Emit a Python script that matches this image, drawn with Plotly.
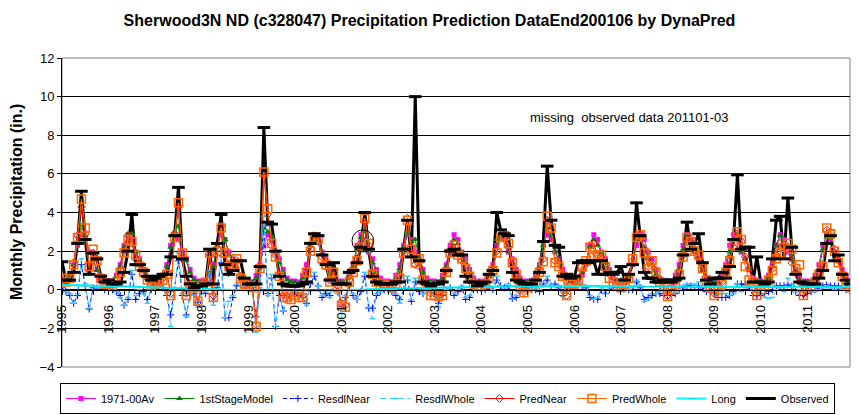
import plotly.graph_objects as go

YEAR_LABELS = ["1995", "1996", "1997", "1998", "1999", "2000", "2001", "2002", "2003",
               "2004", "2005", "2006", "2007", "2008", "2009", "2010", "2011"]

OBSERVED = [
    1.45, 0.5, 0.5, 0.9, 2.4, 5.1, 2.6, 0.8, 1.9, 1.6, 0.7, 0.4,
    0.5, 0.3, 0.3, 0.4, 0.9, 2.0, 3.9, 1.3, 1.3, 1.0, 0.7, 0.5,
    0.6, 0.7, 0.8, 0.8, 1.7, 2.8, 5.3, 1.6, 0.7, 0.3, 0.1, 0.2,
    0.2, 0.3, 2.1, 0.3, 2.4, 3.9, 1.3, 0.8, 1.0, 1.5, 1.5, 0.6,
    0.3, 0.3, 0.3, 1.2, 8.4, 3.5, 3.4, 2.0, 0.7, 0.3, 0.2, 0.2,
    0.2, 0.2, 0.3, 0.4, 2.4, 2.9, 2.8, 1.8, 1.3, 0.5, 1.4, 0.3,
    0.3, 0.3, 0.9, 1.0, 1.4, 2.2, 4.0, 2.1, 0.7, 0.4, 0.3, 0.3,
    0.3, 0.3, 0.4, 0.4, 2.1, 3.6, 1.7, 10.0, 1.5, 0.4, 0.3, 0.2,
    0.3, 0.3, 0.4, 1.0, 2.0, 2.1, 1.8, 1.8, 0.7, 0.4, 0.4, 0.2,
    0.3, 0.4, 0.8, 1.0, 4.0, 3.1, 2.9, 2.8, 0.9, 0.5, 0.4, 0.3,
    0.3, 0.3, 0.5, 0.9, 2.5, 6.4, 3.6, 2.3, 2.2, 0.7, 0.8, 0.6,
    0.7, 1.4, 1.5, 1.5, 1.4, 1.5, 0.8, 1.5, 0.8, 0.9, 0.8, 0.9,
    1.2, 0.5, 0.8, 1.3, 4.5, 2.8, 0.9, 0.6, 0.6, 0.4, 0.4, 0.5,
    0.5, 0.4, 0.5, 0.6, 1.8, 3.5, 2.1, 2.4, 2.9, 1.4, 0.5, 0.3,
    0.6, 0.6, 0.9, 0.6, 1.2, 2.6, 5.95, 2.1, 2.2, 2.2, 0.4, 1.7,
    0.4, 0.3, 0.4, 1.6, 3.6, 3.8, 1.6, 4.75, 2.2, 0.8, 0.4, 0.35,
    0.3, 0.3, 0.3, 0.6, 1.0, 2.4, 2.8, 1.5, 1.8, 0.8, 0.5, 0.3,
]

AV_1971_00 = [
    0.45, 0.4, 0.75, 1.3, 2.3, 2.85, 2.6, 1.95, 1.6, 1.05, 0.6, 0.45,
    0.45, 0.4, 0.75, 1.3, 2.3, 2.85, 2.6, 1.95, 1.6, 1.05, 0.6, 0.45,
    0.45, 0.4, 0.75, 1.3, 2.3, 2.85, 2.6, 1.95, 1.6, 1.05, 0.6, 0.45,
    0.45, 0.4, 0.75, 1.3, 2.3, 2.85, 2.6, 1.95, 1.6, 1.05, 0.6, 0.45,
    0.45, 0.4, 0.75, 1.3, 2.3, 2.85, 2.6, 1.95, 1.6, 1.05, 0.6, 0.45,
    0.45, 0.4, 0.75, 1.3, 2.3, 2.85, 2.6, 1.95, 1.6, 1.05, 0.6, 0.45,
    0.45, 0.4, 0.75, 1.3, 2.3, 2.85, 2.6, 1.95, 1.6, 1.05, 0.6, 0.45,
    0.45, 0.4, 0.75, 1.3, 2.3, 2.85, 2.6, 1.95, 1.6, 1.05, 0.6, 0.45,
    0.45, 0.4, 0.75, 1.3, 2.3, 2.85, 2.6, 1.95, 1.6, 1.05, 0.6, 0.45,
    0.45, 0.4, 0.75, 1.3, 2.3, 2.85, 2.6, 1.95, 1.6, 1.05, 0.6, 0.45,
    0.45, 0.4, 0.75, 1.3, 2.3, 2.85, 2.6, 1.95, 1.6, 1.05, 0.6, 0.45,
    0.45, 0.4, 0.75, 1.3, 2.3, 2.85, 2.6, 1.95, 1.6, 1.05, 0.6, 0.45,
    0.45, 0.4, 0.75, 1.3, 2.3, 2.85, 2.6, 1.95, 1.6, 1.05, 0.6, 0.45,
    0.45, 0.4, 0.75, 1.3, 2.3, 2.85, 2.6, 1.95, 1.6, 1.05, 0.6, 0.45,
    0.45, 0.4, 0.75, 1.3, 2.3, 2.85, 2.6, 1.95, 1.6, 1.05, 0.6, 0.45,
    0.45, 0.4, 0.75, 1.3, 2.3, 2.85, 2.6, 1.95, 1.6, 1.05, 0.6, 0.45,
    0.45, 0.4, 0.75, 1.3, 2.3, 2.85, 2.6, 1.95, 1.6, 1.05, 0.6, 0.45,
]

STAGE1_MODEL = [
    0.5, 0.4, 0.7, 1.3, 2.4, 3.3, 2.8, 1.9, 1.6, 1.0, 0.6, 0.4,
    0.4, 0.4, 0.7, 1.2, 2.2, 2.9, 2.9, 2.0, 1.5, 1.0, 0.6, 0.4,
    0.5, 0.4, 0.7, 1.2, 2.2, 3.0, 3.3, 1.9, 1.5, 0.9, 0.5, 0.4,
    0.4, 0.4, 0.9, 1.2, 2.3, 3.1, 2.6, 1.8, 1.6, 1.1, 0.7, 0.5,
    0.4, 0.4, 0.6, 1.3, 3.2, 3.0, 2.8, 2.0, 1.4, 0.9, 0.5, 0.4,
    0.4, 0.3, 0.6, 1.1, 2.3, 2.8, 2.6, 1.9, 1.5, 0.9, 0.6, 0.4,
    0.4, 0.4, 0.7, 1.2, 2.1, 2.7, 3.0, 2.0, 1.4, 0.9, 0.5, 0.4,
    0.4, 0.3, 0.6, 1.1, 2.2, 3.0, 2.5, 2.6, 1.6, 0.9, 0.5, 0.4,
    0.4, 0.4, 0.6, 1.2, 2.1, 2.6, 2.4, 1.9, 1.4, 0.9, 0.5, 0.4,
    0.4, 0.4, 0.7, 1.2, 2.6, 2.8, 2.6, 2.0, 1.4, 0.9, 0.5, 0.4,
    0.4, 0.4, 0.6, 1.2, 2.3, 3.2, 2.8, 2.0, 1.6, 0.9, 0.6, 0.4,
    0.5, 0.6, 0.9, 1.4, 2.2, 2.6, 2.3, 1.9, 1.4, 1.0, 0.6, 0.5,
    0.5, 0.4, 0.7, 1.3, 2.6, 2.8, 2.2, 1.6, 1.3, 0.8, 0.5, 0.4,
    0.4, 0.4, 0.6, 1.1, 2.1, 2.8, 2.5, 2.0, 1.6, 1.0, 0.5, 0.4,
    0.4, 0.4, 0.7, 1.1, 2.0, 2.6, 2.9, 2.0, 1.6, 1.1, 0.5, 0.5,
    0.4, 0.3, 0.6, 1.2, 2.3, 2.8, 2.4, 2.3, 1.6, 0.9, 0.5, 0.4,
    0.4, 0.4, 0.6, 1.1, 2.1, 2.7, 2.7, 2.0, 1.5, 0.9, 0.5, 0.4,
]

RESDL_NEAR = [
    0.1, -0.1, -0.3, -0.7, -0.3, 1.3, 0.2, -1.0, 0.1, 0.1, 0.2, 0.0,
    0.1, 0.0, -0.1, -0.3, -0.8, -0.5, 0.8, -0.5, -0.2, -0.1, -0.5, 0.0,
    0.1, 0.2, 0.1, -0.3, -1.3, 0.0, 1.5, -0.3, -1.3, -0.3, -0.2, -0.65,
    0.0, -0.2, 0.8, -0.6, 0.1, 1.4, -1.45, -1.45, -0.4, 0.2, 0.6, 0.1,
    0.0, 0.1, -1.4, 0.0, 3.3, -0.2, 0.6, -1.9, -0.3, -1.1, -0.3, -0.2,
    -0.1, -0.3, -0.4, -0.7, 0.3, 0.7, 0.2, -0.4, -0.2, -0.3, 0.4, -0.1,
    -0.85, -0.4, 0.2, -0.3, -0.5, -0.1, 0.7, -0.95, -0.95, -0.3, -0.1, 0.0,
    0.0, -0.1, -0.3, -0.5, 0.0, 0.5, -0.6, 0.4, -0.1, -0.2, 0.0, 0.0,
    0.0, -0.7, -0.3, 0.0, 0.1, -0.3, -0.1, 0.1, -0.5, -0.4, 0.0, 0.0,
    0.0, 0.0, 0.1, 0.0, 0.5, 0.2, 0.1, 0.2, -0.45, -0.4, -0.1, 0.0,
    0.0, 0.0, 0.0, -0.1, 0.3, 0.5, 0.2, 0.3, 0.1, -0.3, 0.1, 0.0,
    0.1, 0.3, 0.2, 0.1, -0.4, -0.5, -0.5, 0.0, -0.2, 0.0, 0.1, 0.2,
    0.3, 0.1, 0.0, 0.0, 0.4, 0.1, -0.5, -0.4, -0.3, -0.2, -0.2, -0.3,
    -0.3, -0.3, -0.2, 0.0, 0.1, 0.2, 0.2, 0.15, 0.2, 0.1, -0.1, -0.1,
    -0.2, -0.4, -0.4, -0.4, -0.3, -0.1, 0.3, 0.3, 0.25, 0.1, -0.3, -0.3,
    -0.3, -0.2, -0.1, 0.0, 0.2, 0.2, 0.2, 0.25, 0.2, -0.1, -0.3, -0.3,
    -0.2, -0.1, 0.0, 0.1, 0.2, 0.25, 0.2, 0.2, 0.2, 0.1, 0.0, 0.0,
]

RESDL_WHOLE = [
    0.2, -0.1, -0.2, -0.7, -0.2, 1.6, 0.3, -0.95, 0.2, 0.1, 0.1, 0.1,
    0.1, 0.1, -0.1, -0.4, -0.8, -0.4, 1.0, -0.3, 0.0, -0.2, -0.7, 0.1,
    0.2, 0.2, 0.2, -0.2, -1.9, 0.1, 1.9, -0.2, -1.4, -0.2, -0.3, -0.9,
    0.0, -0.1, 1.0, -0.8, 0.2, 1.7, -1.45, -0.6, -0.3, 0.3, 0.8, 0.2,
    0.1, 0.2, -2.2, 0.1, 3.8, -0.3, 0.8, -1.9, -0.2, -1.1, -0.4, -0.2,
    -0.1, -0.2, -0.3, -0.8, 0.4, 0.9, 0.2, -0.3, -0.1, -0.4, 0.5, -0.2,
    -1.5, -0.3, 0.3, -0.2, -0.5, 0.0, 0.9, -0.9, -1.5, -0.2, -0.1, 0.0,
    0.0, -0.1, -0.2, -0.7, 0.1, 0.7, -0.5, 0.6, 0.1, -0.2, 0.0, 0.1,
    0.1, -0.9, -0.2, 0.0, 0.1, -0.2, 0.0, 0.2, -0.4, -0.3, 0.1, 0.0,
    0.0, 0.1, 0.2, 0.0, 0.7, 0.2, 0.1, 0.3, -0.5, -0.3, 0.0, 0.1,
    0.1, 0.0, 0.1, 0.0, 0.4, 0.7, 0.3, 0.2, 0.2, -0.35, 0.3, 0.1,
    0.2, 0.4, 0.3, 0.2, -0.3, -0.5, -0.4, 0.1, -0.2, 0.1, 0.2, 0.3,
    0.4, 0.1, 0.0, 0.1, 0.5, 0.2, -0.6, -0.5, -0.2, -0.2, -0.1, 0.1,
    -0.1, -0.2, -0.1, 0.0, 0.2, 0.3, 0.3, 0.25, 0.4, 0.2, 0.0, -0.1,
    -0.2, -0.1, 0.0, -0.2, -0.3, -0.2, 0.3, -0.1, 0.2, 0.3, 0.0, 0.2,
    0.0, -0.4, -0.45, -0.4, 0.0, 0.1, -0.1, 0.6, 0.3, -0.1, 0.0, 0.0,
    0.0, 0.0, -0.1, 0.0, 0.1, 0.2, 0.1, 0.0, 0.1, 0.0, 0.0, 0.0,
]

PRED_NEAR = [
    0.5, 0.5, 0.7, 1.4, 2.8, 4.3, 2.9, 1.0, 1.9, 1.6, 0.5, 0.4,
    0.4, 0.3, 0.3, 1.0, 2.0, 2.8, 2.4, 1.6, 1.3, 0.8, 0.6, 0.3,
    0.2, 0.5, 0.6, 0.9, -0.2, 2.9, 4.3, 1.7, -0.2, 0.3, 0.2, -0.65,
    0.3, 0.3, 1.8, -0.3, 2.1, 3.3, 1.8, 1.3, 1.2, 1.5, 0.7, 0.2,
    0.3, 0.2, -1.8, 1.2, 5.9, 3.9, 2.3, 1.8, 0.8, -0.3, -0.3, -0.4,
    -0.2, -0.3, -0.3, 1.0, 2.1, 2.8, 2.5, 1.7, 1.2, 0.5, 1.0, 0.2,
    -0.7, -0.8, 0.5, 1.0, 1.6, 2.3, 3.5, 2.3, 0.9, 0.5, 0.3, 0.2,
    0.3, 0.2, 0.4, 0.7, 2.0, 3.7, 2.2, 1.3, 1.2, 0.6, 0.3, -0.2,
    -0.2, -0.3, -0.2, 1.0, 2.0, 2.4, 1.9, 1.5, 1.0, 0.8, 0.4, 0.3,
    0.3, 0.4, 0.7, 1.1, 2.0, 2.8, 2.7, 2.2, 1.3, 0.8, 0.2, -0.1,
    0.2, 0.3, 0.5, 1.0, 1.6, 3.6, 3.1, 1.5, 1.3, 0.7, -0.3, 0.3,
    0.4, 0.6, 1.0, 1.4, 2.3, 2.4, 1.8, 1.7, 1.3, 0.8, 0.5, 0.3,
    0.2, 0.4, 0.7, 1.5, 2.6, 2.9, 1.8, 1.2, 1.4, 1.0, 0.5, 0.1,
    -0.3, 0.1, 0.4, 0.9, 1.8, 2.6, 2.6, 2.1, 1.7, 1.2, 0.6, 0.2,
    -0.2, 0.1, 0.4, 0.9, 1.6, 2.2, 2.9, 2.5, 1.7, 1.1, 0.5, -0.2,
    0.1, 0.3, 0.6, 1.1, 1.8, 2.4, 2.3, 2.1, 1.4, 0.9, 0.4, -0.2,
    0.2, 0.3, 0.5, 0.9, 1.3, 3.1, 3.0, 2.1, 1.5, 0.8, 0.4, 0.2,
]

PRED_WHOLE = [
    0.6, 0.4, 0.6, 1.3, 2.7, 4.7, 3.2, 1.2, 2.1, 1.5, 0.6, 0.3,
    0.3, 0.2, 0.4, 0.9, 1.9, 2.6, 2.5, 1.8, 1.2, 0.9, 0.5, 0.2,
    0.3, 0.4, 0.5, 0.8, -0.3, 2.7, 4.5, 1.9, -0.3, 0.2, 0.1, -0.6,
    0.2, 0.4, 1.9, -0.4, 2.0, 3.2, 1.9, 1.2, 1.3, 1.6, 0.6, 0.3,
    0.2, 0.1, -1.9, 1.1, 6.1, 4.2, 2.4, 1.7, 0.7, -0.4, -0.4, -0.5,
    -0.3, -0.4, -0.4, 0.9, 2.0, 2.7, 2.6, 1.6, 1.3, 0.4, 0.9, 0.1,
    -0.8, -0.9, 0.4, 0.9, 1.5, 2.2, 3.7, 2.4, 0.8, 0.4, 0.2, 0.3,
    0.2, 0.1, 0.3, 0.6, 1.9, 3.6, 2.1, 1.4, 1.6, 0.5, 0.2, -0.3,
    -0.3, -0.35, -0.3, 0.9, 1.9, 2.3, 1.8, 1.6, 1.1, 0.7, 0.3, 0.2,
    0.2, 0.3, 0.6, 1.0, 1.9, 2.7, 2.8, 2.4, 1.4, 0.8, 0.1, -0.15,
    0.1, 0.2, 0.4, 0.9, 1.45, 3.8, 3.2, 1.4, 1.2, 0.7, -0.3, 0.3,
    0.3, 0.5, 1.2, 1.5, 2.2, 1.7, 1.8, 1.8, 1.2, 0.6, 0.4, 0.2,
    0.1, 0.3, 0.6, 1.6, 2.7, 2.85, 1.9, 1.1, 1.5, 0.9, 0.4, 0.2,
    -0.35, 0.0, 0.3, 0.8, 1.7, 2.7, 2.5, 2.0, 1.8, 1.1, 0.5, 0.1,
    -0.3, 0.0, 0.3, 0.9, 1.5, 2.3, 3.0, 2.6, 1.2, 0.5, 0.4, -0.3,
    0.0, 0.2, 0.5, 1.0, 1.6, 1.9, 2.2, 2.4, 2.1, 1.1, 1.3, -0.3,
    0.1, 0.2, 0.4, 0.8, 1.2, 3.2, 2.9, 2.0, 1.4, 0.7, 0.3, 0.1,
]

LONG = [
    0.25, 0.25, 0.24, 0.24, 0.23, 0.23, 0.22, 0.22, 0.21, 0.21, 0.2, 0.2,
    0.2, 0.19, 0.19, 0.18, 0.18, 0.17, 0.16, 0.16, 0.15, 0.14, 0.14, 0.13,
    0.12, 0.12, 0.11, 0.1, 0.1, 0.09, 0.08, 0.08, 0.07, 0.06, 0.05, 0.05,
    0.04, 0.04, 0.03, 0.02, 0.02, 0.01, 0.0, 0.0, -0.01, -0.01, -0.02, -0.02,
    -0.03, -0.03, -0.04, -0.04, -0.05, -0.05, -0.05, -0.06, -0.06, -0.06, -0.06, -0.06,
    -0.06, -0.06, -0.06, -0.05, -0.05, -0.05, -0.05, -0.04, -0.04, -0.03, -0.03, -0.02,
    -0.02, -0.01, -0.01, 0.0, 0.0, 0.01, 0.01, 0.02, 0.02, 0.03, 0.03, 0.04,
    0.04, 0.05, 0.05, 0.06, 0.06, 0.07, 0.07, 0.08, 0.08, 0.09, 0.09, 0.1,
    0.1, 0.1, 0.11, 0.11, 0.12, 0.12, 0.13, 0.13, 0.13, 0.14, 0.14, 0.15,
    0.15, 0.15, 0.16, 0.16, 0.16, 0.17, 0.17, 0.17, 0.18, 0.18, 0.18, 0.19,
    0.19, 0.19, 0.2, 0.2, 0.2, 0.2, 0.21, 0.21, 0.21, 0.21, 0.21, 0.21,
    0.21, 0.21, 0.21, 0.21, 0.21, 0.2, 0.2, 0.2, 0.2, 0.2, 0.19, 0.19,
    0.19, 0.19, 0.18, 0.18, 0.18, 0.18, 0.17, 0.17, 0.17, 0.17, 0.16, 0.16,
    0.16, 0.16, 0.16, 0.15, 0.15, 0.15, 0.15, 0.15, 0.15, 0.14, 0.14, 0.14,
    0.14, 0.14, 0.14, 0.14, 0.14, 0.14, 0.14, 0.14, 0.14, 0.14, 0.14, 0.14,
    0.14, 0.14, 0.14, 0.14, 0.14, 0.15, 0.15, 0.15, 0.15, 0.15, 0.15, 0.15,
    0.15, 0.15, 0.15, 0.15, 0.15, 0.15, 0.15, 0.15, 0.15, 0.15, 0.15, 0.15,
]

MONTHS = list(range(len(OBSERVED)))
YEAR_TICKS = [12 * i for i in range(len(YEAR_LABELS))]

FONT = "Arial, 'Liberation Sans', sans-serif"

fig = go.Figure()

# observed line drawn first (legend entry), markers added on top later
fig.add_trace(go.Scatter(
    x=MONTHS, y=OBSERVED, name="Observed", mode="lines",
    line=dict(color="#000000", width=3), legendrank=8))

series = [
    ("1971-00Av", AV_1971_00, dict(color="#FF00FF", width=1),
     dict(symbol="square", size=5, color="#FF00FF")),
    ("1stStageModel", STAGE1_MODEL, dict(color="#008000", width=1),
     dict(symbol="triangle-up", size=6, color="#008000")),
    ("ResdlNear", RESDL_NEAR, dict(color="#0000FF", width=1, dash="4px,3px"),
     dict(symbol="cross-thin", size=5, line=dict(color="#0000FF", width=1))),
    ("ResdlWhole", RESDL_WHOLE, dict(color="#33CCFF", width=1, dash="6px,3px"),
     dict(symbol="line-ew", size=4, line=dict(color="#33CCFF", width=1.5))),
    ("PredNear", PRED_NEAR, dict(color="#FF0000", width=1),
     dict(symbol="diamond-open", size=6, line=dict(color="#FF0000", width=1))),
    ("PredWhole", PRED_WHOLE, dict(color="#FF6600", width=1),
     dict(symbol="square-open", size=8, line=dict(color="#FF6600", width=1.5))),
    ("Long", LONG, dict(color="#00FFFF", width=2),
     dict(symbol="line-ew", size=3, line=dict(color="#00DDEE", width=1))),
]
for rank, (name, vals, line, marker) in enumerate(series, start=1):
    fig.add_trace(go.Scatter(
        x=MONTHS, y=vals, name=name, mode="lines+markers",
        line=line, marker=marker, legendrank=rank))

fig.add_trace(go.Scatter(
    x=MONTHS, y=OBSERVED, name="Observed", mode="markers", showlegend=False,
    marker=dict(symbol="line-ew", size=9, line=dict(color="#000000", width=3))))

# plot-area border
fig.add_shape(type="rect", xref="paper", yref="paper", x0=0, x1=1, y0=0, y1=1,
              line=dict(color="#808080", width=1), layer="between")
# hand-drawn circle around 2001 peak
fig.add_shape(type="circle", xref="x", yref="y", x0=74.7, x1=80.3, y0=1.96, y1=3.1,
              line=dict(color="#000000", width=1))

fig.add_annotation(text="missing  observed data 201101-03", xref="paper", yref="paper",
                   x=0.591, y=0.809, xanchor="left", yanchor="middle", showarrow=False,
                   font=dict(family=FONT, size=13, color="#000000"))

# y-axis title
fig.add_annotation(text="<b>Monthly Precipitation (in.)</b>", xref="paper", yref="paper",
                   x=-0.057, y=0.534, xanchor="center", yanchor="middle",
                   textangle=-90, showarrow=False,
                   font=dict(family=FONT, size=16, color="#000000"))

fig.update_layout(
    width=859, height=415,
    margin=dict(l=62, r=9, t=58, b=48),
    paper_bgcolor="white", plot_bgcolor="white",
    font=dict(family=FONT, color="#000000"),
    title=dict(text="<b>Sherwood3N ND (c328047) Precipitation Prediction DataEnd200106 by DynaPred</b>",
               x=0.5, xref="container", xanchor="center",
               y=1 - 20 / 415, yref="container", yanchor="middle",
               font=dict(family=FONT, size=16, color="#000000")),
    showlegend=True,
    legend=dict(orientation="h", xref="container", x=60 / 859, xanchor="left",
                yref="container", y=1 - 383 / 415, yanchor="top",
                bordercolor="#000000", borderwidth=1, bgcolor="white",
                font=dict(family=FONT, size=11, color="#000000"),
                tracegroupgap=0, itemwidth=30),
    xaxis=dict(
        range=[0, 203], anchor="free", position=0.25,
        tickmode="array", tickvals=YEAR_TICKS, ticktext=YEAR_LABELS,
        tickangle=-90, ticks="outside", ticklen=4, tickcolor="#000000",
        ticklabelstandoff=5,
        minor=dict(tickmode="linear", tick0=0, dtick=4, ticks="outside", ticklen=4,
                   tickcolor="#000000", showgrid=False),
        showline=True, linecolor="#000000", linewidth=1,
        showgrid=False, zeroline=False,
        tickfont=dict(family=FONT, size=13, color="#000000"),
        automargin=False,
    ),
    yaxis=dict(
        range=[-4, 12], dtick=2, tick0=0,
        ticks="outside", ticklen=4, tickcolor="#000000",
        showline=True, linecolor="#000000", linewidth=1,
        showgrid=True, gridcolor="#000000", gridwidth=1,
        zeroline=True, zerolinecolor="#000000", zerolinewidth=1,
        tickfont=dict(family=FONT, size=13, color="#000000"),
        automargin=False,
    ),
)

fig.write_html("out.html")
